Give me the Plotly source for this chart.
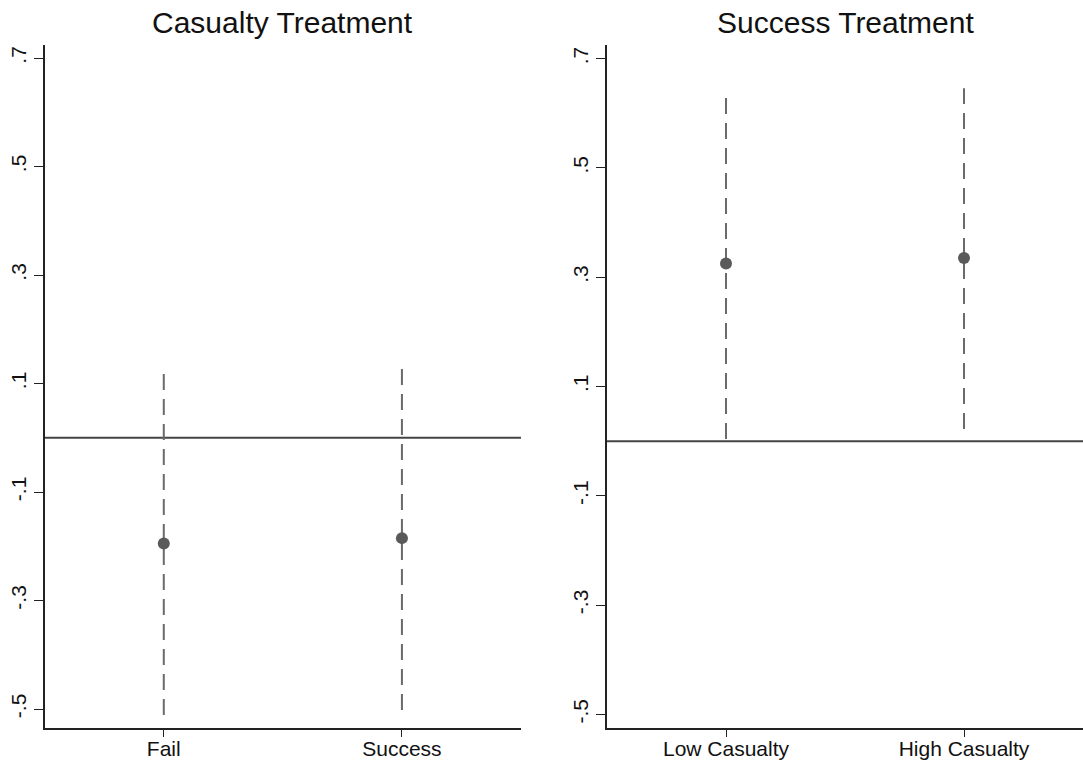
import plotly.graph_objects as go

# ---- data ----
left_title = "Casualty Treatment"
left_cats = ["Fail", "Success"]
left_est = [-0.195, -0.185]
left_lo = [-0.511, -0.502]
left_hi = [0.120, 0.132]

right_title = "Success Treatment"
right_cats = ["Low Casualty", "High Casualty"]
right_est = [0.325, 0.335]
right_lo = [0.004, 0.022]
right_hi = [0.637, 0.646]

ytick_vals = [-0.5, -0.3, -0.1, 0.1, 0.3, 0.5, 0.7]
ytick_text = ["-.5", "-.3", "-.1", ".1", ".3", ".5", ".7"]

W, H = 1083, 766
FONT = "Liberation Sans, Arial, Helvetica, sans-serif"
MARK = "#5a5a5a"
CI = "#6a6a6a"

fig = go.Figure()


def ci_xy(cats, lo, hi):
    xs, ys = [], []
    for c, a, b in zip(cats, lo, hi):
        xs += [c, c, None]
        ys += [a, b, None]
    return xs, ys


panels = [
    ("x", "y", left_cats, left_est, left_lo, left_hi),
    ("x2", "y2", right_cats, right_est, right_lo, right_hi),
]
for xa, ya, cats, est, lo, hi in panels:
    xs, ys = ci_xy(cats, lo, hi)
    fig.add_trace(go.Scatter(x=xs, y=ys, mode="lines", xaxis=xa, yaxis=ya,
                             line=dict(color=CI, width=2, dash="16px,9px"),
                             showlegend=False, hoverinfo="skip"))
    fig.add_trace(go.Scatter(x=cats, y=est, mode="markers", xaxis=xa, yaxis=ya,
                             marker=dict(color=MARK, size=12),
                             showlegend=False))

# zero reference lines
for xr, yr in [("x domain", "y"), ("x2 domain", "y2")]:
    fig.add_shape(type="line", xref=xr, yref=yr, x0=0, x1=1, y0=0, y1=0,
                  line=dict(color="#444444", width=2), layer="below")

ydom = [(H - 728) / H, (H - 45) / H]
common_x = dict(showline=True, linecolor="#222", linewidth=1.5, ticks="outside",
                ticklen=7, tickcolor="#222", tickwidth=1.2, showgrid=False,
                zeroline=False, tickfont=dict(family=FONT, size=21, color="#111"),
                type="category", range=[-0.5, 1.5], automargin=False,
                ticklabelstandoff=-6)
common_y = dict(showline=True, linecolor="#222", linewidth=1.5, ticks="outside",
                ticklen=9, tickcolor="#222", tickwidth=1.2, showgrid=False,
                zeroline=False, tickfont=dict(family=FONT, size=21, color="#111"),
                tickvals=ytick_vals, ticktext=ytick_text, tickangle=-90,
                domain=ydom, automargin=False)

fig.update_layout(
    width=W, height=H,
    margin=dict(l=0, r=0, t=0, b=0),
    paper_bgcolor="white", plot_bgcolor="white",
    xaxis=dict(common_x, domain=[44.7 / W, 521 / W], anchor="y"),
    yaxis=dict(common_y, range=[-0.535, 0.724], anchor="x"),
    xaxis2=dict(common_x, domain=[607 / W, 1.0], anchor="y2"),
    yaxis2=dict(common_y, range=[-0.525, 0.725], anchor="x2"),
    font=dict(family=FONT, color="#111"),
)

fig.add_annotation(text=left_title, xref="paper", yref="paper",
                   x=282.8 / W, y=1 - 22 / H, xanchor="center", yanchor="middle",
                   showarrow=False, font=dict(family=FONT, size=30, color="#111"))
fig.add_annotation(text=right_title, xref="paper", yref="paper",
                   x=845 / W, y=1 - 22 / H, xanchor="center", yanchor="middle",
                   showarrow=False, font=dict(family=FONT, size=30, color="#111"))

fig.write_html("out.html")
